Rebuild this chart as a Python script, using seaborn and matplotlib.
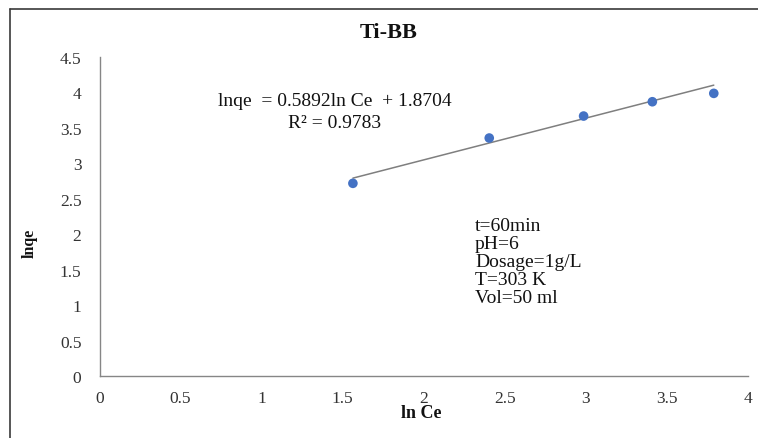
import matplotlib
matplotlib.use("Agg")
import matplotlib.pyplot as plt
from matplotlib.lines import Line2D
import numpy as np
import pandas as pd
import seaborn as sns

# ---- data ----
ln_ce = [1.563, 2.404, 2.986, 3.410, 3.789]
ln_qe = [2.718, 3.357, 3.667, 3.869, 3.987]
slope = 0.5892
intercept = 1.8704
r_squared = 0.9783
x_ticks = [0, 0.5, 1, 1.5, 2, 2.5, 3, 3.5, 4]
x_tick_labels = ["0", "0.5", "1", "1.5", "2", "2.5", "3", "3.5", "4"]
y_ticks = [0, 0.5, 1, 1.5, 2, 2.5, 3, 3.5, 4, 4.5]
y_tick_labels = ["0", "0.5", "1", "1.5", "2", "2.5", "3", "3.5", "4", "4.5"]
conditions = ["t=60min", "pH=6", "Dosage=1g/L", "T=303 K", "Vol=50 ml"]
title = "Ti-BB"
x_label = "ln Ce"
y_label = "lnqe"

sns.set_theme(style="white")
plt.rcParams["font.family"] = ["Liberation Serif", "DejaVu Serif"]

W, H = 758, 439
fig = plt.figure(figsize=(W / 100, H / 100), dpi=100)
fig.patch.set_facecolor("white")

# axes placement in pixels
ax_l, ax_r, ax_t, ax_b = 99.5, 748, 58, 377
ax = fig.add_axes([ax_l / W, 1 - ax_b / H, (ax_r - ax_l) / W, (ax_b - ax_t) / H])

df = pd.DataFrame({"x": ln_ce, "y": ln_qe})
fit_x = [min(ln_ce), max(ln_ce)]
fit_df = pd.DataFrame({"x": fit_x, "y": [slope * v + intercept for v in fit_x]})

sns.lineplot(data=fit_df, x="x", y="y", ax=ax, color="#7f7f7f", linewidth=1.1, zorder=2)
sns.scatterplot(data=df, x="x", y="y", ax=ax, color="#4472C4", s=48,
                edgecolor="none", zorder=3)

ax.set_xlim(0, 4)
ax.set_ylim(0, 4.5)
ax.set_xticks(x_ticks)
ax.set_xticklabels(x_tick_labels)
ax.set_yticks(y_ticks)
ax.set_yticklabels(y_tick_labels)
ax.set_xlabel("")
ax.set_ylabel("")
ax.tick_params(axis="both", length=0, labelsize=12.5, colors="#333333")
ax.tick_params(axis="x", pad=10)
ax.tick_params(axis="y", pad=13)
for s in ["top", "right"]:
    ax.spines[s].set_visible(False)
for s in ["left", "bottom"]:
    ax.spines[s].set_color("#868686")
    ax.spines[s].set_linewidth(1.0)
ax.grid(False)

# titles / labels
fig.text(389 / W, 1 - 33 / H, title, ha="center", va="center",
         fontsize=16, fontweight="bold", color="#111111")
fig.text(421 / W, 1 - 414 / H, x_label, ha="center", va="center",
         fontsize=13, fontweight="bold", color="#111111")
fig.text(30 / W, 1 - 243 / H, y_label, ha="center", va="center",
         rotation=90, fontsize=11.5, fontweight="bold", color="#111111")

# trendline equation
fig.text(218 / W, 1 - 102 / H,
         f"lnqe  = {slope:.4f}ln Ce  + {intercept:.4f}",
         ha="left", va="center", fontsize=14, color="#111111")
fig.text(288 / W, 1 - 123 / H, f"R\u00b2 = {r_squared:.4f}",
         ha="left", va="center", fontsize=14, color="#111111")

# conditions box text
fig.text(475 / W, 1 - 218 / H, "\n".join(conditions), ha="left", va="top",
         fontsize=14, color="#111111", linespacing=1.08)

# chart-area border (left and top visible)
fig.add_artist(Line2D([10 / W, 10 / W], [0, 1 - 10 / H], transform=fig.transFigure,
                      color="#3a3a3a", linewidth=1.2))
fig.add_artist(Line2D([10 / W, 1], [1 - 10 / H, 1 - 10 / H], transform=fig.transFigure,
                      color="#3a3a3a", linewidth=1.2))

fig.savefig("out.png", dpi=100)
